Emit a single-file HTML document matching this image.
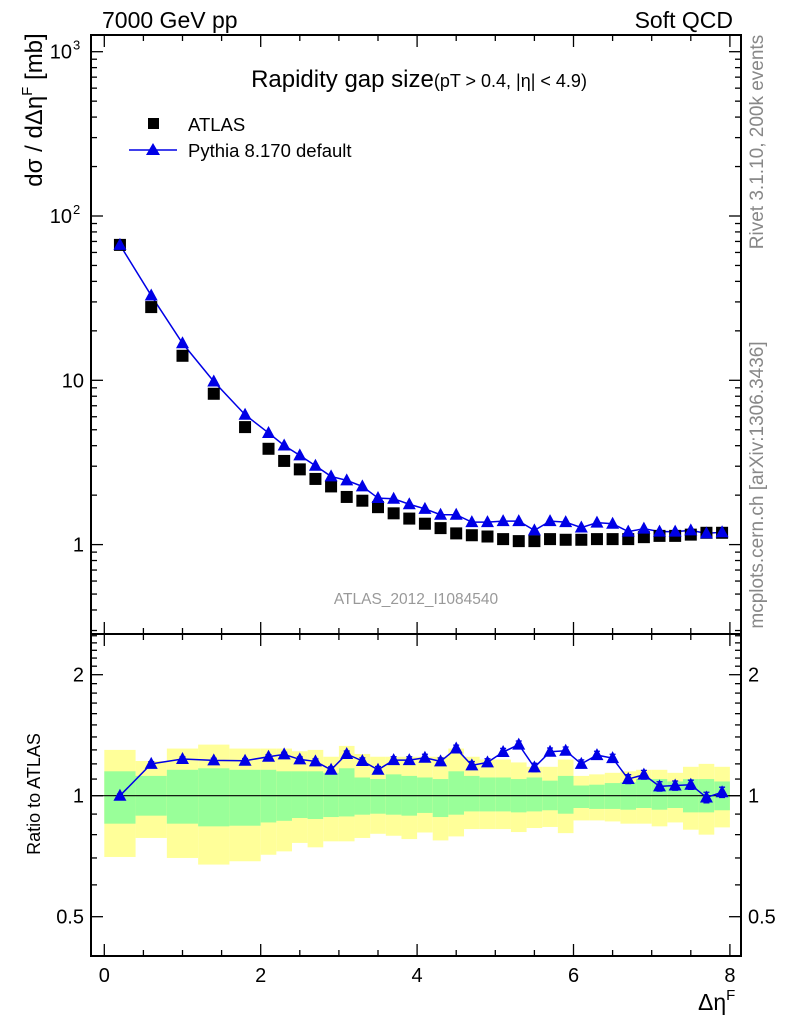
<!DOCTYPE html>
<html><head><meta charset="utf-8"><style>
body{margin:0;background:#fff}
svg text{font-family:"Liberation Sans",sans-serif}
</style></head><body>
<svg id="c" width="786" height="1024" xmlns="http://www.w3.org/2000/svg">
<g id="bands"></g>
<g id="grid"></g>
<g id="marks"></g>
<text x="102" y="28" font-size="23">7000 GeV pp</text>
<text x="733" y="28" font-size="23" text-anchor="end">Soft QCD</text>
<text x="419" y="87" font-size="24" text-anchor="middle">Rapidity gap size<tspan font-size="18">(pT &gt; 0.4, |η| &lt; 4.9)</tspan></text>
<rect x="148" y="118" width="11" height="11" fill="#000"/>
<text x="188" y="131" font-size="18.5">ATLAS</text>
<line x1="129" y1="150" x2="177" y2="150" stroke="#0000e6" stroke-width="1.5"/>
<polygon points="153,143 146,155 160,155" fill="#0000e6"/>
<text x="188" y="157" font-size="18.5">Pythia 8.170 default</text>
<text x="416" y="604" font-size="15.5" fill="#999" text-anchor="middle">ATLAS_2012_I1084540</text>
<text transform="translate(42,110) rotate(-90)" font-size="24" text-anchor="middle">dσ / dΔη<tspan font-size="15" dy="-10">F</tspan><tspan dy="10"> [mb]</tspan></text>
<text transform="translate(40,794) rotate(-90)" font-size="18" text-anchor="middle">Ratio to ATLAS</text>
<text x="698" y="1010" font-size="23">Δη<tspan font-size="15" dy="-10">F</tspan></text>
<text transform="translate(763,142) rotate(-90)" font-size="19" fill="#888" text-anchor="middle">Rivet 3.1.10,  200k events</text>
<text transform="translate(763,485) rotate(-90)" font-size="19" fill="#888" text-anchor="middle">mcplots.cern.ch [arXiv:1306.3436]</text>
</svg>
<script>
const xCenters=[0.2,0.6,1.0,1.4,1.8,2.1,2.3,2.5,2.7,2.9,3.1,3.3,3.5,3.7,3.9,4.1,4.3,4.5,4.7,4.9,5.1,5.3,5.5,5.7,5.9,6.1,6.3,6.5,6.7,6.9,7.1,7.3,7.5,7.7,7.9];
const binEdges=[0,0.4,0.8,1.2,1.6,2.0,2.2,2.4,2.6,2.8,3.0,3.2,3.4,3.6,3.8,4.0,4.2,4.4,4.6,4.8,5.0,5.2,5.4,5.6,5.8,6.0,6.2,6.4,6.6,6.8,7.0,7.2,7.4,7.6,7.8,8.0];
const atlas=[66.7,27.9,14.1,8.28,5.19,3.83,3.23,2.87,2.51,2.26,1.95,1.85,1.69,1.55,1.44,1.34,1.26,1.17,1.14,1.12,1.08,1.05,1.05,1.08,1.07,1.07,1.08,1.08,1.08,1.11,1.13,1.13,1.15,1.18,1.18];
const pythia=[66.7,32.8,16.8,9.84,6.17,4.78,4.01,3.49,3.02,2.60,2.46,2.26,1.92,1.90,1.76,1.65,1.52,1.52,1.37,1.37,1.39,1.39,1.22,1.39,1.37,1.27,1.36,1.34,1.20,1.25,1.20,1.20,1.22,1.17,1.19];
const ratio=[1.0,1.20,1.234,1.224,1.222,1.25,1.267,1.231,1.217,1.16,1.27,1.22,1.16,1.226,1.226,1.243,1.217,1.31,1.19,1.21,1.284,1.34,1.176,1.286,1.294,1.20,1.262,1.24,1.10,1.128,1.055,1.06,1.065,0.99,1.02];
const ratioErr=[0.01,0.015,0.015,0.015,0.015,0.015,0.015,0.018,0.018,0.02,0.022,0.022,0.022,0.024,0.024,0.025,0.025,0.026,0.026,0.026,0.027,0.028,0.028,0.028,0.028,0.028,0.028,0.028,0.028,0.028,0.028,0.028,0.028,0.03,0.03];
const yellowUp=[1.30,1.22,1.31,1.34,1.31,1.31,1.31,1.29,1.30,1.25,1.33,1.27,1.25,1.25,1.25,1.25,1.25,1.31,1.25,1.23,1.23,1.21,1.18,1.18,1.23,1.12,1.13,1.14,1.15,1.16,1.16,1.14,1.18,1.20,1.18];
const greenUp=[1.15,1.12,1.16,1.17,1.16,1.16,1.15,1.15,1.15,1.14,1.17,1.11,1.10,1.13,1.12,1.11,1.10,1.15,1.12,1.11,1.11,1.10,1.11,1.09,1.12,1.06,1.065,1.075,1.08,1.10,1.10,1.085,1.10,1.10,1.085];
const greenLo=[0.852,0.892,0.852,0.839,0.842,0.858,0.866,0.880,0.875,0.885,0.888,0.897,0.902,0.897,0.892,0.906,0.885,0.897,0.914,0.914,0.914,0.909,0.914,0.920,0.902,0.932,0.927,0.927,0.923,0.932,0.923,0.932,0.909,0.909,0.920];
const yellowLo=[0.704,0.785,0.700,0.674,0.687,0.713,0.727,0.763,0.744,0.770,0.770,0.785,0.804,0.795,0.780,0.810,0.774,0.792,0.826,0.826,0.826,0.812,0.831,0.836,0.807,0.868,0.868,0.863,0.852,0.852,0.839,0.858,0.823,0.800,0.834];
const xTicks=[0,2,4,6,8];
const mainTickLabels=["1","10"];
const ratioTickVals=[0.5,1,2];
const ratioTickLabels=["0.5","1","2"];

const NS="http://www.w3.org/2000/svg";
const L=91,R=741,T=35,MID=634,B=956;
const X=v=>104.3+v*78.2;
const Y=v=>544.6-164.3*Math.log10(v);
const YR=v=>795.7-121*Math.log2(v);
function mk(tag,parent,attrs){const e=document.createElementNS(NS,tag);for(const k in attrs)e.setAttribute(k,attrs[k]);document.getElementById(parent).appendChild(e);return e;}

for(let i=0;i<xCenters.length;i++){
  const x0=X(binEdges[i]),w=X(binEdges[i+1])-x0;
  const y1=mk('rect','bands',{x:x0,y:YR(yellowUp[i]),width:w,height:YR(yellowLo[i])-YR(yellowUp[i]),fill:'#ffff99'});
  
  
  const g1=mk('rect','bands',{x:x0,y:YR(greenUp[i]),width:w,height:YR(greenLo[i])-YR(greenUp[i]),fill:'#99ff99'});
  
  
}
const fr=mk('rect','grid',{x:L,y:T,width:R-L,height:B-T,fill:'none',stroke:'#000','stroke-width':2});


const dv=mk('line','grid',{x1:L,x2:R,y1:MID,y2:MID,stroke:'#000','stroke-width':2});


const one=mk('line','grid',{x1:L,x2:R,y1:YR(1),y2:YR(1),stroke:'#000','stroke-width':1.2});


function tick(x1,y1,x2,y2){const t=mk('line','grid',{x1,y1,x2,y2,stroke:'#000','stroke-width':1.3});}
for(let v=0;v<=8;v+=0.5){const x=X(v),len=(v%2===0)?12:6;
  tick(x,B,x,B-len);tick(x,T,x,T+len);tick(x,MID,x,MID-len);tick(x,MID,x,MID+len);}
xTicks.forEach(v=>{const t=mk('text','grid',{x:X(v),y:982,'font-size':20,'text-anchor':'middle'});t.textContent=String(v);
  
  });
for(let d=-1;d<=3;d++){for(let m=1;m<=9;m++){const v=m*Math.pow(10,d),y=Y(v);if(y<T||y>MID)continue;
  const len=m===1?12:6;tick(L,y,L+len,y);tick(R,y,R-len,y);}}
mainTickLabels.forEach((s,i)=>{const t=mk('text','grid',{x:84,y:Y(Math.pow(10,i))+7,'font-size':20,'text-anchor':'end'});t.textContent=s;
  
  });
[2,3].forEach(p=>{const t=mk('text','grid',{x:72,y:Y(Math.pow(10,p))+7,'font-size':20,'text-anchor':'end'});t.textContent='10';
  
  
  const s=mk('text','grid',{x:73,y:Y(Math.pow(10,p))-2,'font-size':13});s.textContent=String(p);
  
  });
const rt=[0.5,0.6,0.7,0.8,0.9,1,1.1,1.2,1.3,1.4,1.5,1.6,1.7,1.8,1.9,2,2.1,2.2,2.3,2.4,2.5];
rt.forEach(v=>{const y=YR(v);if(y<MID||y>B)return;const len=(v===0.5||v===1||v===2)?12:6;tick(L,y,L+len,y);tick(R,y,R-len,y);});
ratioTickVals.forEach((v,i)=>{const t=mk('text','grid',{x:84,y:YR(v)+7,'font-size':20,'text-anchor':'end'});t.textContent=ratioTickLabels[i];
  
  
  const t2=mk('text','grid',{x:748,y:YR(v)+7,'font-size':20});t2.textContent=ratioTickLabels[i];
  
  });
const pl=mk('polyline','marks',{points:xCenters.map((x,i)=>X(x)+','+Y(pythia[i])).join(' '),fill:'none',stroke:'#0000e6','stroke-width':1.5});


const rl=mk('polyline','marks',{points:xCenters.map((x,i)=>X(x)+','+YR(ratio[i])).join(' '),fill:'none',stroke:'#0000e6','stroke-width':1.5});


function tri(x,y){return (x)+','+(y-7)+' '+(x-6.5)+','+(y+5)+' '+(x+6.5)+','+(y+5);}
xCenters.forEach((xv,i)=>{
  const x=X(xv);
  const sq=mk('rect','marks',{x:x-6,y:Y(atlas[i])-6,width:12,height:12,fill:'#000'});
  
  
  const p=mk('polygon','marks',{points:tri(x,Y(pythia[i])),fill:'#0000e6'});
  
  
  const yt=YR(ratio[i]+ratioErr[i]),yb=YR(ratio[i]-ratioErr[i]);
  const eb=mk('path','marks',{d:`M${x},${yt}V${yb}M${x-3},${yt}H${x+3}M${x-3},${yb}H${x+3}`,stroke:'#0000e6','stroke-width':1.3,fill:'none'});
  
  
  const r=mk('polygon','marks',{points:tri(x,YR(ratio[i])),fill:'#0000e6'});
  
  
});
</script>
</body></html>
